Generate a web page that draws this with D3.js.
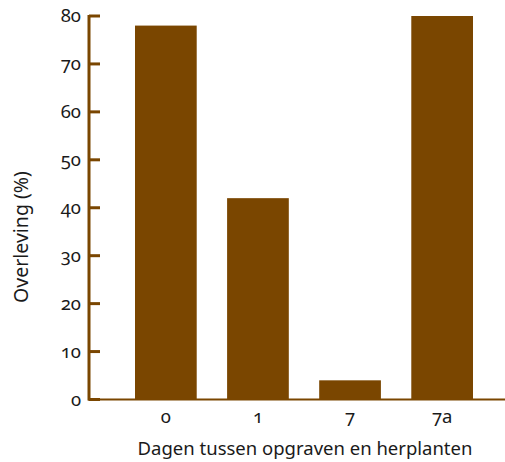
<!DOCTYPE html>
<html>
<head>
<meta charset="utf-8">
<script src="https://cdn.jsdelivr.net/npm/d3@7"></script>
<style>
  body { margin: 0; background: #fff; }
  text { font-family: "Noto Sans", "Open Sans", sans-serif; fill: #1a1a1a; font-feature-settings: "onum"; }
</style>
</head>
<body>
<svg id="chart" width="505" height="462"></svg>
<script>
// data
const categories = ["0", "1", "7", "7a"];
const survival = [78, 42, 4, 80];
const yTicks = [0, 10, 20, 30, 40, 50, 60, 70, 80];

const brown = "#7a4600";
const svg = d3.select("#chart");

// scales
var x = d3.scaleBand().domain(categories).range([135, 473]).paddingInner(0.33).paddingOuter(0);
var y = d3.scaleLinear().domain([0, 80]).range([399.5, 16]);

// bars
svg.selectAll("rect.bar")
    .data(survival)
    .enter()
    .append("rect")
    .attr("class", "bar")
    .attr("x", (d, i) => x(categories[i]))
    .attr("y", d => y(d))
    .attr("width", x.bandwidth())
    .attr("height", d => y(0) - y(d))
    .attr("fill", brown);

// baseline, runs to the right edge
svg.append("line")
    .attr("x1", 88).attr("x2", 505)
    .attr("y1", y(0)).attr("y2", y(0))
    .attr("stroke", brown).attr("stroke-width", 2);

// y axis line
svg.append("line")
    .attr("x1", 89).attr("x2", 89)
    .attr("y1", y(80) - 1).attr("y2", y(0) + 1)
    .attr("stroke", brown).attr("stroke-width", 3);

// y ticks point inwards
svg.selectAll("line.ytick")
    .data(yTicks)
    .enter()
    .append("line")
    .attr("class", "ytick")
    .attr("x1", 89).attr("x2", 100)
    .attr("y1", d => y(d)).attr("y2", d => y(d))
    .attr("stroke", brown).attr("stroke-width", 3);

svg.selectAll("text.ylab")
    .data(yTicks)
    .enter()
    .append("text")
    .attr("class", "ylab")
    .attr("x", 81)
    .attr("y", d => y(d))
    .attr("dy", "0.33em")
    .attr("text-anchor", "end")
    .style("font-size", "18.5px")
    .text(d => d);

// x tick labels
svg.selectAll("text.xlab")
    .data(categories)
    .enter()
    .append("text")
    .attr("class", "xlab")
    .attr("x", d => x(d) + x.bandwidth() / 2)
    .attr("y", 423)
    .attr("text-anchor", "middle")
    .style("font-size", "18.5px")
    .text(d => d);

// axis titles
svg.append("text")
    .attr("x", 305).attr("y", 455)
    .attr("text-anchor", "middle")
    .style("font-size", "18.5px")
    .text("Dagen tussen opgraven en herplanten");

svg.append("text")
    .attr("transform", "translate(28,237) rotate(-90)")
    .attr("text-anchor", "middle")
    .style("font-size", "19.5px")
    .text("Overleving (%)");
</script>
</body>
</html>
